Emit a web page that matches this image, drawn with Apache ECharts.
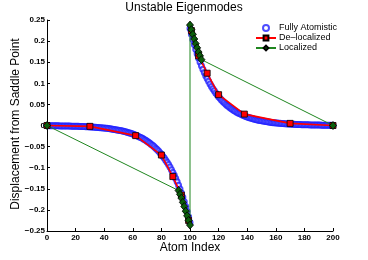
<!DOCTYPE html>
<html><head><meta charset="utf-8">
<script src="https://cdn.jsdelivr.net/npm/echarts@6/dist/echarts.min.js"></script>
<style>html,body{margin:0;padding:0;background:#fff}#c{width:368px;height:260px}</style>
</head><body><div id="c"></div>
<script>
// ---- data ----
const titleText = 'Unstable Eigenmodes';
const xName = 'Atom Index';
const yName = 'Displacement from Saddle Point';
const seriesNames = ['Fully Atomistic', 'De\u2013localized', 'Localized'];
const xTicks = [0, 20, 40, 60, 80, 100, 120, 140, 160, 180, 200];
const yTicks = [-0.25, -0.2, -0.15, -0.1, -0.05, 0, 0.05, 0.1, 0.15, 0.2, 0.25];

// Fully atomistic: atoms 0..100 (left half) and 100..200 (right half)
const atomicLeftY = [0, -0.0005, -0.0005, -0.0006, -0.0006, -0.0007, -0.0007, -0.0008, -0.0008, -0.0009,
 -0.0010, -0.0010, -0.0011, -0.0012, -0.0012, -0.0013, -0.0014, -0.0015, -0.0016, -0.0017,
 -0.0018, -0.0019, -0.0020, -0.0022, -0.0023, -0.0024, -0.0026, -0.0028, -0.0029, -0.0031,
 -0.0033, -0.0035, -0.0037, -0.0040, -0.0042, -0.0045, -0.0048, -0.0051, -0.0054, -0.0057,
 -0.0061, -0.0064, -0.0068, -0.0073, -0.0077, -0.0082, -0.0087, -0.0093, -0.0098, -0.0104,
 -0.0111, -0.0118, -0.0125, -0.0133, -0.0141, -0.0150, -0.0160, -0.0170, -0.0180, -0.0192,
 -0.0204, -0.0216, -0.0230, -0.0244, -0.0260, -0.0276, -0.0293, -0.0311, -0.0331, -0.0351,
 -0.0373, -0.0397, -0.0422, -0.0448, -0.0476, -0.0506, -0.0537, -0.0571, -0.0606, -0.0644,
 -0.0684, -0.0727, -0.0773, -0.0821, -0.0872, -0.0927, -0.0985, -0.1046, -0.1111, -0.1181,
 -0.1255, -0.1333, -0.1416, -0.1505, -0.1599, -0.1699, -0.1805, -0.1918, -0.2037, -0.2165,
 -0.2300];
const atomicRightY = [0.2300, 0.2165, 0.2037, 0.1918, 0.1805, 0.1699, 0.1599, 0.1505, 0.1416, 0.1333,
 0.1255, 0.1181, 0.1111, 0.1046, 0.0985, 0.0927, 0.0872, 0.0821, 0.0773, 0.0727,
 0.0684, 0.0644, 0.0606, 0.0571, 0.0537, 0.0506, 0.0476, 0.0448, 0.0422, 0.0397,
 0.0373, 0.0351, 0.0331, 0.0311, 0.0293, 0.0276, 0.0260, 0.0244, 0.0230, 0.0216,
 0.0204, 0.0192, 0.0180, 0.0170, 0.0160, 0.0150, 0.0141, 0.0133, 0.0125, 0.0118,
 0.0111, 0.0104, 0.0098, 0.0093, 0.0087, 0.0082, 0.0077, 0.0073, 0.0068, 0.0064,
 0.0061, 0.0057, 0.0054, 0.0051, 0.0048, 0.0045, 0.0042, 0.0040, 0.0037, 0.0035,
 0.0033, 0.0031, 0.0029, 0.0028, 0.0026, 0.0024, 0.0023, 0.0022, 0.0020, 0.0019,
 0.0018, 0.0017, 0.0016, 0.0015, 0.0014, 0.0013, 0.0012, 0.0012, 0.0011, 0.0010,
 0.0010, 0.0009, 0.0008, 0.0008, 0.0007, 0.0007, 0.0006, 0.0006, 0.0005, 0.0005,
 0];

// De-localized (left branch, then right branch)
const delocLeftX = [0, 30, 62, 80, 88, 94, 99];
const delocLeftY = [0, -0.002, -0.024, -0.070, -0.121, -0.165, -0.225];
const delocRightX = [101, 106, 112, 120, 138, 170, 200];
const delocRightY = [0.225, 0.165, 0.124, 0.073, 0.027, 0.005, 0];

// Localized
const locX = [0, 92, 93, 94, 95, 96, 97, 98, 99, 100, 100, 101, 102, 103, 104, 105, 106, 107, 108, 200];
const locY = [0, -0.154, -0.163, -0.172, -0.182, -0.192, -0.203, -0.214, -0.225, -0.236,
              0.238, 0.227, 0.216, 0.205, 0.194, 0.184, 0.174, 0.165, 0.156, 0];

// ---- build ----
const atomicData = [];
atomicLeftY.forEach((v, i) => atomicData.push([i, v]));
atomicRightY.forEach((v, i) => atomicData.push([100 + i, v]));
const delocData = delocLeftX.map((x, i) => [x, delocLeftY[i]])
  .concat([['-', '-']])
  .concat(delocRightX.map((x, i) => [x, delocRightY[i]]));
const locData = locX.map((x, i) => [x, locY[i]]);

const FONT = 'Liberation Sans, Arial, Helvetica, sans-serif';
const fmt = v => { const s = String(parseFloat(Number(v).toFixed(2))); return s.replace('-', '\u2212'); };

const chart = echarts.init(document.getElementById('c'), null, {renderer: 'canvas'});
chart.setOption({
  animation: false,
  backgroundColor: '#fff',
  title: {text: titleText, left: 'center', top: 0, padding: [2, 0, 0, 12],
    textStyle: {fontFamily: FONT, fontSize: 12, fontWeight: 'normal', color: '#000'}},
  grid: {left: 47, right: 35, top: 20, bottom: 29, containLabel: false},
  legend: {
    orient: 'vertical', left: 255, top: 23, itemWidth: 20, itemHeight: 6, itemGap: 0, padding: 0,
    textStyle: {fontFamily: FONT, fontSize: 9, color: '#000', lineHeight: 10, padding: [0, 0, 0, -2]},
    data: seriesNames
  },
  xAxis: {
    type: 'value', min: xTicks[0], max: xTicks[xTicks.length - 1], interval: 20,
    axisLine: {onZero: false, lineStyle: {color: '#000', width: 1}},
    axisTick: {inside: true, length: 3, lineStyle: {color: '#000'}},
    axisLabel: {fontFamily: FONT, fontSize: 8, fontWeight: 'bold', color: '#000', margin: 3, formatter: fmt},
    splitLine: {show: false}
  },
  yAxis: {
    type: 'value', min: yTicks[0], max: yTicks[yTicks.length - 1], interval: 0.05,
    axisLine: {show: true, onZero: false, lineStyle: {color: '#000', width: 1}},
    axisTick: {show: true, inside: true, length: 3, lineStyle: {color: '#000'}},
    axisLabel: {fontFamily: FONT, fontSize: 8, fontWeight: 'bold', color: '#000', margin: 2, formatter: fmt},
    splitLine: {show: false}
  },
  graphic: [
    {type: 'text', x: 190, y: 248,
     style: {text: xName, font: '12px ' + FONT, fill: '#000', textAlign: 'center', textVerticalAlign: 'middle'}},
    {type: 'text', x: 16, y: 124, rotation: Math.PI / 2,
     style: {text: yName, font: '12px ' + FONT, fill: '#000', textAlign: 'center', textVerticalAlign: 'middle'}}
  ],
  series: [
    {name: seriesNames[0], type: 'scatter', data: atomicData, symbol: 'emptyCircle', symbolSize: 5,
     itemStyle: {color: '#2020ff', borderColor: '#2020ff', borderWidth: 0.9}},
    {name: seriesNames[1], type: 'line', data: delocData, symbol: 'rect', symbolSize: 6, connectNulls: false,
     showAllSymbol: true, lineStyle: {color: '#ff0000', width: 1.6},
     itemStyle: {color: '#ff0000', borderColor: '#000', borderWidth: 0.8}},
    {name: seriesNames[2], type: 'line', data: locData, symbol: 'diamond', symbolSize: [7, 8],
     showAllSymbol: true, lineStyle: {color: '#1f861f', width: 1},
     itemStyle: {color: '#0b5e0b', borderColor: '#000', borderWidth: 0.8}}
  ]
});
</script></body></html>
